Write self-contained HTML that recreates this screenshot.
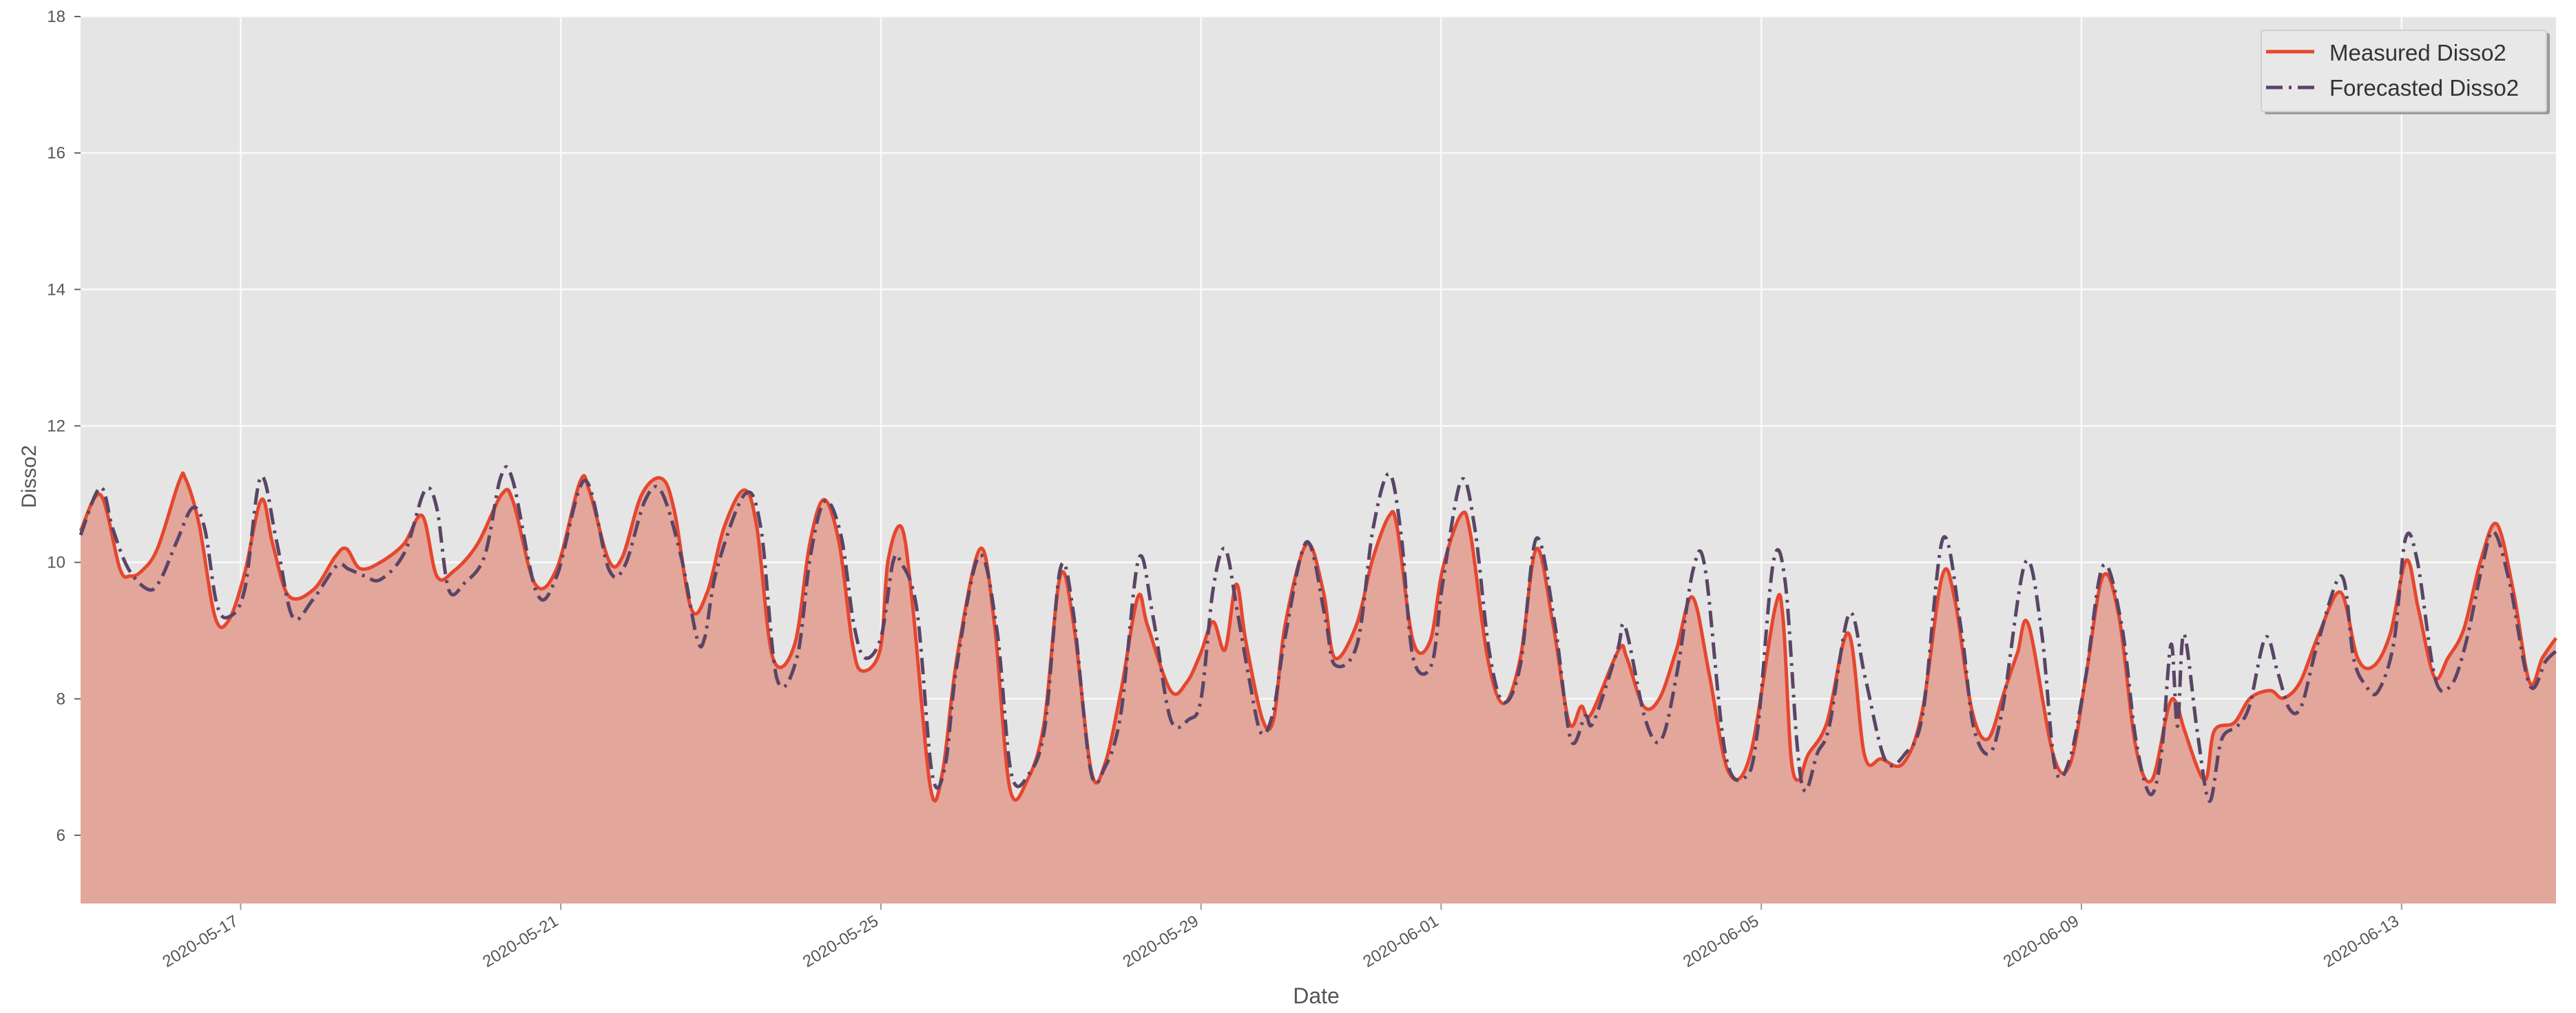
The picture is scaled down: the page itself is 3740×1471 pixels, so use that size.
<!DOCTYPE html>
<html><head><meta charset="utf-8">
<style>
html,body{margin:0;padding:0;background:#fff;}
svg{display:block;}
text{font-family:"Liberation Sans","DejaVu Sans",sans-serif;}
</style></head>
<body>
<svg id="chart" width="3740" height="1471" viewBox="0 0 3740 1471" xmlns="http://www.w3.org/2000/svg">
<rect x="117" y="24" width="3594" height="1288" fill="#e5e5e5"/>
<g id="grid"></g>
<path id="area" fill="#e3a69b"/>
<path id="measured" fill="none" stroke="#e5472f" stroke-width="5" stroke-linejoin="round"/>
<path id="forecast" fill="none" stroke="#5a4566" stroke-width="5" stroke-dasharray="24,9,4,9" stroke-linejoin="round"/>
<g id="axes"></g>
<text x="0" y="0" transform="translate(52,692) rotate(-90)" font-size="30" fill="#555" text-anchor="middle">Disso2</text>
<text x="1911" y="1457" font-size="32" fill="#555" text-anchor="middle">Date</text>
<g>
<rect x="3288" y="48" width="414" height="118" fill="#9a9a9a" rx="3"/>
<rect x="3283" y="44" width="414" height="118" fill="#e8e8e8" stroke="#cfcfcf" stroke-width="2" rx="3"/>
<line x1="3290" y1="75" x2="3360" y2="75" stroke="#e5472f" stroke-width="5"/>
<text x="3382" y="88" font-size="33" fill="#333">Measured Disso2</text>
<line x1="3290" y1="127" x2="3360" y2="127" stroke="#5a4566" stroke-width="5" stroke-dasharray="24,9,4,9"/>
<text x="3382" y="139" font-size="33" fill="#333">Forecasted Disso2</text>
</g>
</svg>
<script>
// day offsets from 2020-05-15 00:00 and Disso2 values
const measuredDays=[0,.25,.49,.62,.76,.96,1.23,1.31,1.48,1.68,1.85,2.05,2.26,2.40,2.60,2.91,3.18,3.32,3.49,3.73,4.04,4.27,4.45,4.66,4.96,5.27,5.41,5.68,5.95,6.24,6.36,6.60,6.77,7.01,7.26,7.42,7.63,7.83,8.04,8.29,8.45,8.65,8.92,9.11,9.29,9.48,9.64,9.76,9.99,10.09,10.26,10.40,10.62,10.77,10.95,11.24,11.42,11.61,11.83,12.04,12.24,12.41,12.63,12.80,13.00,13.21,13.33,13.62,13.82,13.99,14.15,14.30,14.44,14.56,14.77,14.91,15.05,15.32,15.53,15.67,15.94,16.14,16.35,16.45,16.65,16.86,17.02,17.25,17.37,17.58,17.78,17.99,18.19,18.40,18.60,18.75,18.87,19.22,19.32,19.53,19.73,19.94,20.14,20.35,20.59,20.86,21.17,21.27,21.37,21.47,21.58,21.82,22.09,22.29,22.50,22.77,23.01,23.26,23.42,23.63,23.83,24.04,24.20,24.34,24.65,24.86,25.06,25.27,25.47,25.68,25.88,26.09,26.19,26.29,26.54,26.66,26.91,27.11,27.36,27.52,27.73,27.97,28.24,28.45,28.65,28.86,29.06,29.21,29.41,29.58,29.78,29.99,30.19,30.40,30.60,30.76,30.93];
const measuredValues=[10.46,10.99,9.91,9.80,9.87,10.20,11.18,11.23,10.56,9.20,9.15,9.84,10.92,10.27,9.51,9.60,10.08,10.20,9.91,9.99,10.27,10.68,9.80,9.87,10.27,11.01,10.87,9.68,9.91,11.18,11.04,10.03,10.08,10.99,11.23,10.75,9.32,9.56,10.51,11.06,10.51,8.60,8.79,10.27,10.92,10.27,8.84,8.41,8.72,10.03,10.51,9.32,6.69,6.93,8.60,10.20,9.08,6.69,6.81,7.65,9.80,9.08,6.93,7.05,8.12,9.49,9.08,8.12,8.24,8.65,9.13,8.72,9.68,8.84,7.69,7.72,9.08,10.27,9.56,8.60,9.08,10.03,10.68,10.51,8.84,8.84,9.91,10.70,10.39,8.60,7.93,8.60,10.20,9.08,7.65,7.89,7.77,8.72,8.60,7.89,8.01,8.72,9.49,8.36,6.93,7.17,9.32,9.20,7.17,6.81,7.17,7.65,8.96,7.17,7.12,7.05,7.81,9.80,9.44,7.84,7.41,8.12,8.67,9.08,7.17,7.05,8.36,9.80,9.20,7.29,6.81,7.89,7.93,7.53,6.81,7.53,7.65,8.01,8.12,8.01,8.24,8.96,9.56,8.60,8.48,8.96,10.03,9.32,8.32,8.60,9.03,10.03,10.56,9.56,8.24,8.60,8.89];
const forecastDays=[0,.25,.4,.6,.85,1.0,1.2,1.4,1.55,1.7,1.85,2.05,2.25,2.45,2.65,2.9,3.2,3.35,3.55,3.75,4.05,4.3,4.45,4.6,4.8,5.05,5.25,5.4,5.7,5.95,6.3,6.6,6.8,7.05,7.25,7.5,7.7,7.8,7.95,8.3,8.5,8.7,8.95,9.12,9.3,9.5,9.66,9.8,10.0,10.15,10.25,10.45,10.64,10.8,10.95,11.23,11.45,11.63,11.85,12.05,12.24,12.4,12.62,12.8,13.0,13.22,13.4,13.62,13.85,14.0,14.15,14.3,14.45,14.6,14.75,14.9,15.05,15.32,15.55,15.67,15.95,16.15,16.35,16.5,16.65,16.88,17.02,17.25,17.42,17.6,17.78,17.99,18.19,18.42,18.62,18.8,18.9,19.2,19.3,19.55,19.75,19.95,20.15,20.3,20.55,20.8,20.95,21.15,21.3,21.45,21.55,21.7,21.85,22.1,22.3,22.55,22.8,23.02,23.27,23.5,23.65,23.85,24.02,24.3,24.5,24.67,24.85,25.05,25.27,25.5,25.68,25.86,26.0,26.12,26.2,26.28,26.45,26.6,26.75,26.95,27.1,27.3,27.45,27.6,27.75,27.95,28.25,28.4,28.55,28.7,28.9,29.05,29.2,29.42,29.62,29.8,30.0,30.15,30.35,30.6,30.8,30.93];
const forecastValues=[10.4,11.1,10.5,9.9,9.6,9.75,10.3,10.8,10.5,9.4,9.2,9.6,11.25,10.3,9.2,9.45,9.95,9.9,9.8,9.75,10.15,11.05,10.8,9.6,9.7,10.1,11.25,11.2,9.55,9.8,11.2,9.9,9.95,10.9,11.05,10.1,8.9,8.9,9.9,11.0,10.5,8.3,8.6,10.1,10.9,10.4,9.1,8.6,8.9,10.0,10.0,9.3,6.9,7.0,8.5,10.1,9.0,6.9,6.9,7.6,9.9,9.3,6.95,7.0,7.8,10.05,9.2,7.7,7.7,8.0,9.6,10.2,9.3,8.3,7.5,7.8,8.9,10.3,9.2,8.5,8.8,10.5,11.3,10.4,8.6,8.5,9.7,11.2,10.5,8.7,7.95,8.5,10.35,9.1,7.4,7.75,7.65,8.7,9.05,7.7,7.4,8.4,9.9,9.9,7.2,6.85,7.5,10.0,9.7,7.3,6.65,7.2,7.6,9.25,8.3,7.1,7.2,7.8,10.35,9.0,7.6,7.2,7.9,10.0,9.0,7.0,7.1,8.3,9.95,9.1,7.4,6.6,7.2,8.8,7.6,8.95,7.5,6.5,7.4,7.6,7.9,8.9,8.4,7.85,7.9,8.8,9.8,8.6,8.2,8.1,8.8,10.35,10.0,8.3,8.2,8.8,9.9,10.45,9.7,8.2,8.55,8.7];
const yTicks=[6,8,10,12,14,16,18];
const xTickDays=[2,6,10,14,17,21,25,29];
const xTickLabels=["2020-05-17","2020-05-21","2020-05-25","2020-05-29","2020-06-01","2020-06-05","2020-06-09","2020-06-13"];
const X0=117,X1=3711,Y0=24,Y1=1312,DMIN=0,DMAX=30.93,VMIN=5,VMAX=18;
const sx=d=>X0+(d-DMIN)/(DMAX-DMIN)*(X1-X0);
const sy=v=>Y1-(v-VMIN)/(VMAX-VMIN)*(Y1-Y0);
function smooth(ds,vs){
  const p=ds.map((d,i)=>[sx(d),sy(vs[i])]);
  let s='M'+p[0][0].toFixed(1)+','+p[0][1].toFixed(1);
  for(let i=0;i<p.length-1;i++){
    const a=p[i-1]||p[i],b=p[i],c=p[i+1],e=p[i+2]||c;
    const c1=[b[0]+(c[0]-a[0])/6,b[1]+(c[1]-a[1])/6],c2=[c[0]-(e[0]-b[0])/6,c[1]-(e[1]-b[1])/6];
    s+='C'+c1[0].toFixed(1)+','+c1[1].toFixed(1)+' '+c2[0].toFixed(1)+','+c2[1].toFixed(1)+' '+c[0].toFixed(1)+','+c[1].toFixed(1);
  }
  return s;
}
const NS='http://www.w3.org/2000/svg';
const grid=document.getElementById('grid'),axes=document.getElementById('axes');
yTicks.forEach(v=>{
  const y=sy(v);
  const g=document.createElementNS(NS,'line');
  
  
  g.setAttribute('x1',X0);g.setAttribute('x2',X1);g.setAttribute('y1',y);g.setAttribute('y2',y);
  g.setAttribute('stroke','#fafafa');g.setAttribute('stroke-width','2.5');grid.appendChild(g);
  const t=document.createElementNS(NS,'line');
  
  
  t.setAttribute('x1',X0-9);t.setAttribute('x2',X0);t.setAttribute('y1',y);t.setAttribute('y2',y);
  t.setAttribute('stroke','#666');t.setAttribute('stroke-width','2');axes.appendChild(t);
  const l=document.createElementNS(NS,'text');
  
  
  l.setAttribute('x',X0-22);l.setAttribute('y',y+8);l.setAttribute('font-size','24');
  l.setAttribute('fill','#555');l.setAttribute('text-anchor','end');l.textContent=v;axes.appendChild(l);
});
xTickDays.forEach((d,i)=>{
  const x=sx(d);
  const g=document.createElementNS(NS,'line');
  
  
  g.setAttribute('x1',x);g.setAttribute('x2',x);g.setAttribute('y1',Y0);g.setAttribute('y2',Y1);
  g.setAttribute('stroke','#fafafa');g.setAttribute('stroke-width','2.5');grid.appendChild(g);
  const t=document.createElementNS(NS,'line');
  
  
  t.setAttribute('x1',x);t.setAttribute('x2',x);t.setAttribute('y1',Y1);t.setAttribute('y2',Y1+9);
  t.setAttribute('stroke','#999');t.setAttribute('stroke-width','2');axes.appendChild(t);
  const l=document.createElementNS(NS,'text');
  
  
  l.setAttribute('font-size','24');l.setAttribute('fill','#555');l.setAttribute('text-anchor','end');
  l.setAttribute('transform','translate('+(x-2)+','+(Y1+30)+') rotate(-31)');
  l.textContent=xTickLabels[i];axes.appendChild(l);
});
const mp=smooth(measuredDays,measuredValues);
document.getElementById('measured').setAttribute('d',mp);
document.getElementById('area').setAttribute('d',mp+'L'+sx(measuredDays[measuredDays.length-1])+','+Y1+'L'+sx(measuredDays[0])+','+Y1+'Z');
document.getElementById('forecast').setAttribute('d',smooth(forecastDays,forecastValues));
</script>
</body></html>
